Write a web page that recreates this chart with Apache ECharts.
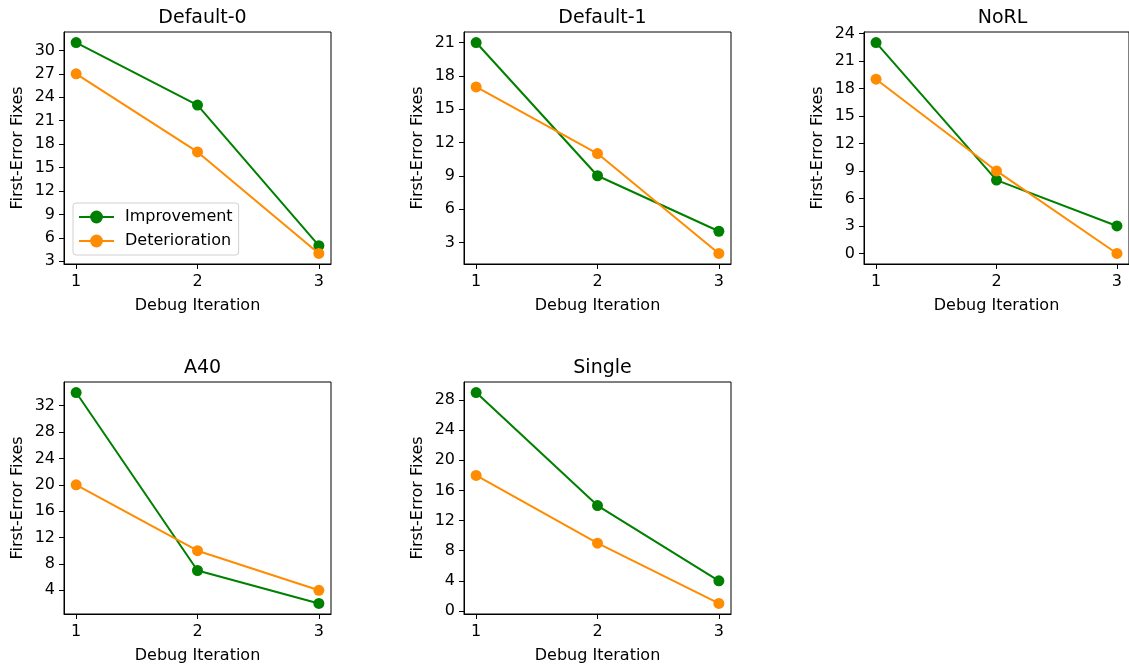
<!DOCTYPE html>
<html>
<head>
<meta charset="utf-8">
<script src="https://cdn.jsdelivr.net/npm/echarts@6/dist/echarts.min.js"></script>
<style>
html,body{margin:0;padding:0;background:#fff;}
#chart{width:1129px;height:668px;}
</style>
</head>
<body>
<div id="chart"></div>
<script>
// ---- data ----
const iterations = [1, 2, 3];
const panelTitles = ["Default-0", "Default-1", "NoRL", "A40", "Single"];
const improvement = {
  "Default-0": [31, 23, 5],
  "Default-1": [21, 9, 4],
  "NoRL": [23, 8, 3],
  "A40": [34, 7, 2],
  "Single": [29, 14, 4]
};
const deterioration = {
  "Default-0": [27, 17, 4],
  "Default-1": [17, 11, 2],
  "NoRL": [19, 9, 0],
  "A40": [20, 10, 4],
  "Single": [18, 9, 1]
};
const yTicks = {
  "Default-0": [3, 6, 9, 12, 15, 18, 21, 24, 27, 30],
  "Default-1": [3, 6, 9, 12, 15, 18, 21],
  "NoRL": [0, 3, 6, 9, 12, 15, 18, 21, 24],
  "A40": [4, 8, 12, 16, 20, 24, 28, 32],
  "Single": [0, 4, 8, 12, 16, 20, 24, 28]
};
const xTicks = [1, 2, 3];
const seriesNames = ["Improvement", "Deterioration"];
const seriesColors = ["#008000", "#ff8c00"];

// ---- layout ----
const colLeft = [64, 464, 864];
const rowTop = [32, 382];
const gw = 267, gh = 232;
const font = "DejaVu Sans";
const fs = 16;

const grids = [], xAxes = [], yAxes = [], series = [], titles = [];
panelTitles.forEach((name, i) => {
  const r = Math.floor(i / 3), c = i % 3;
  grids.push({left: colLeft[c], top: rowTop[r], width: gw, height: gh,
    show: true, borderColor: "#000", borderWidth: 1, backgroundColor: "transparent"});
  titles.push({text: name, left: colLeft[c] + gw / 2, top: rowTop[r] - 28, textAlign: "center",
    textStyle: {fontFamily: font, fontSize: 19, fontWeight: "normal", color: "#000"}});
  const all = improvement[name].concat(deterioration[name]);
  const lo = Math.min(...all), hi = Math.max(...all), pad = (hi - lo) * 0.05;
  xAxes.push({type: "value", gridIndex: i, min: 0.9, max: 3.1,
    name: "Debug Iteration", nameLocation: "middle", nameGap: 34,
    nameTextStyle: {fontFamily: font, fontSize: fs, color: "#000"},
    axisLine: {show: true, onZero: false, lineStyle: {color: "#000", width: 1}},
    axisTick: {show: true, length: 5, lineStyle: {color: "#000"}, customValues: xTicks},
    axisLabel: {fontFamily: font, fontSize: fs, color: "#000", margin: 10, customValues: xTicks},
    splitLine: {show: false}});
  yAxes.push({type: "value", gridIndex: i, min: lo - pad, max: hi + pad,
    name: "First-Error Fixes", nameLocation: "middle", nameGap: 38,
    nameTextStyle: {fontFamily: font, fontSize: fs, color: "#000"},
    axisLine: {show: true, onZero: false, lineStyle: {color: "#000", width: 1}},
    axisTick: {show: true, length: 5, lineStyle: {color: "#000"}, customValues: yTicks[name]},
    axisLabel: {fontFamily: font, fontSize: fs, color: "#000", margin: 9, customValues: yTicks[name]},
    splitLine: {show: false}});
  [improvement[name], deterioration[name]].forEach((vals, k) => {
    series.push({type: "line", name: seriesNames[k], xAxisIndex: i, yAxisIndex: i,
      data: iterations.map((x, j) => [x, vals[j]]),
      symbol: "circle", symbolSize: 11, showSymbol: true,
      lineStyle: {color: seriesColors[k], width: 2},
      itemStyle: {color: seriesColors[k]},
      emphasis: {disabled: true}, z: 2 + k});
  });
});

const chart = echarts.init(document.getElementById("chart"), null, {renderer: "canvas"});
chart.setOption({
  animation: false,
  backgroundColor: "#fff",
  title: titles,
  grid: grids,
  xAxis: xAxes,
  yAxis: yAxes,
  legend: {
    data: seriesNames, orient: "vertical", left: 73, top: 203,
    itemWidth: 35, itemHeight: 16, itemGap: 8,
    padding: [6, 6, 6, 5],
    backgroundColor: "rgba(255,255,255,0.8)", borderColor: "#d0d0d0", borderWidth: 1, borderRadius: 3,
    textStyle: {fontFamily: font, fontSize: fs, color: "#000", padding: [0, 0, 0, 6]},
    selectedMode: false
  },
  series: series
});
</script>
</body>
</html>
